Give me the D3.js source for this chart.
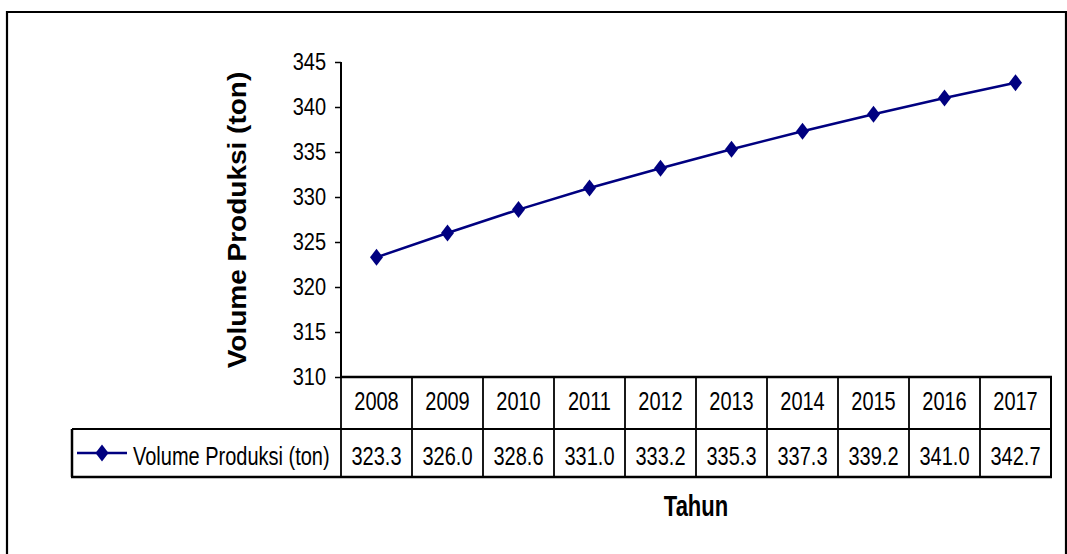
<!DOCTYPE html>
<html><head><meta charset="utf-8">
<script src="https://cdn.jsdelivr.net/npm/d3@7/dist/d3.min.js"></script>
<style>body{margin:0;background:#fff}svg{display:block}text{font-family:"Liberation Sans",Arial,sans-serif;fill:#000}</style>
</head><body><svg id="c" width="1067" height="554"></svg>
<script>
const years = ["2008","2009","2010","2011","2012","2013","2014","2015","2016","2017"];
const values = [323.3,326.0,328.6,331.0,333.2,335.3,337.3,339.2,341.0,342.7];
const valueLabels = ["323.3","326.0","328.6","331.0","333.2","335.3","337.3","339.2","341.0","342.7"];
const yTicks = [310,315,320,325,330,335,340,345];
const seriesName = "Volume Produksi (ton)";
const yTitle = "Volume Produksi (ton)";
const xTitle = "Tahun";

const svg = d3.select("#c");
const navy = "#000080";
const L = 341, R = 1051, T = 62, B = 377;
const row1 = 429, row2 = 477, legL = 72;

const x = d3.scaleBand().domain(years).range([L, R]);
const y = d3.scaleLinear().domain([310, 345]).range([B, T]);

// outer border
svg.append("path").attr("d", "M7,560 V12 H1066 V560").attr("fill","none").attr("stroke","#000").attr("stroke-width",2.2);

// y axis
const ya = svg.append("g").attr("transform", `translate(${L},0)`)
  .call(d3.axisLeft(y).tickValues(yTicks).tickSize(6).tickPadding(9).tickFormat(d3.format("d")));
ya.select(".domain").attr("stroke","#000").attr("stroke-width",2).attr("d", `M0,${T}V${B}`);
ya.selectAll(".tick line").attr("stroke","#000").attr("stroke-width",1.5);
ya.selectAll(".tick text").attr("font-size",20).attr("font-family","'Liberation Sans',Arial,sans-serif")
  .attr("fill","#000").attr("transform","scale(1,1.18)");

// table lines
const tb = svg.append("g").attr("stroke","#000").attr("fill","none");
tb.append("line").attr("x1",L-1).attr("x2",R+1).attr("y1",B).attr("y2",B).attr("stroke-width",2.5);
tb.append("line").attr("x1",legL).attr("x2",R+1).attr("y1",row1).attr("y2",row1).attr("stroke-width",2);
tb.append("line").attr("x1",legL-1).attr("x2",R+1).attr("y1",row2).attr("y2",row2).attr("stroke-width",2.5);
tb.append("line").attr("x1",legL).attr("x2",legL).attr("y1",row1).attr("y2",row2).attr("stroke-width",2.5);
years.forEach(yr => {
  tb.append("line").attr("x1",x(yr)).attr("x2",x(yr)).attr("y1",B).attr("y2",row2).attr("stroke-width",1.8);
});
tb.append("line").attr("x1",R).attr("x2",R).attr("y1",B).attr("y2",row2).attr("stroke-width",2);

// table texts
function stretched(g, tx, ty, s, txt, size, sy, weight, anchor){
  g.append("text").attr("transform",`translate(${tx},${ty}) scale(1,${sy})`)
    .attr("text-anchor",anchor||"middle").attr("font-size",size).attr("font-weight",weight||"normal").text(txt);
}
const tt = svg.append("g");
years.forEach((yr,i) => {
  const cx = x(yr) + x.bandwidth()/2;
  stretched(tt, cx, 410, 1, yr, 20, 1.25);
  stretched(tt, cx, 465, 1, valueLabels[i], 20, 1.25);
});

// legend
const lg = svg.append("g");
lg.append("line").attr("x1",77).attr("x2",127).attr("y1",453).attr("y2",453).attr("stroke",navy).attr("stroke-width",2.5);
const diamond = "M0,-8.5L6.5,0L0,8.5L-6.5,0Z";
lg.append("path").attr("d",diamond).attr("transform","translate(102,453)").attr("fill",navy);
stretched(lg, 133, 465, 1, seriesName, 20, 1.25, "normal", "start");

// line + markers
const line = d3.line().x((d,i)=>x(years[i])+x.bandwidth()/2).y(d=>y(d));
svg.append("path").datum(values).attr("d",line).attr("fill","none").attr("stroke",navy).attr("stroke-width",2.5);
svg.append("g").selectAll("path").data(values).join("path")
  .attr("d",diamond).attr("fill",navy)
  .attr("transform",(d,i)=>`translate(${x(years[i])+x.bandwidth()/2},${y(d)})`);

// titles
svg.append("text").attr("transform","translate(246,220) rotate(-90) scale(1.12,1)")
  .attr("text-anchor","middle").attr("font-size",25).attr("font-weight","bold").text(yTitle);
stretched(svg, 696, 516, 1, xTitle, 22, 1.3, "bold");
</script></body></html>
